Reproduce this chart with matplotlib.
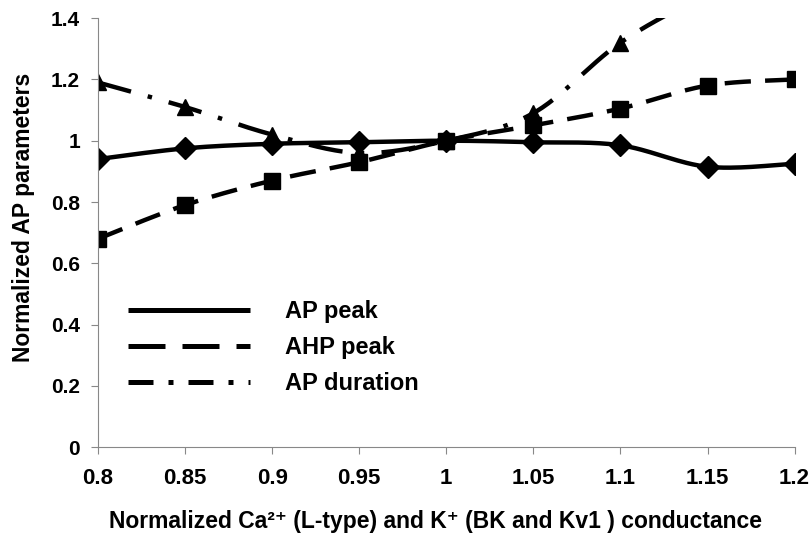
import numpy as np
import matplotlib
matplotlib.use("Agg")
from matplotlib import pyplot as plt
from matplotlib.lines import Line2D

plt.rcParams['font.family'] = ['Liberation Sans', 'DejaVu Sans']
plt.rcParams['font.weight'] = 'bold'

conductance = [0.8, 0.85, 0.9, 0.95, 1.0, 1.05, 1.1, 1.15, 1.2]
ap_peak = [0.94, 0.975, 0.99, 0.995, 1.0, 0.995, 0.985, 0.915, 0.925]
ahp_peak = [0.68, 0.79, 0.87, 0.93, 1.0, 1.05, 1.105, 1.18, 1.2]
ap_duration = [1.19, 1.11, 1.02, 0.96, 1.0, 1.09, 1.32, 1.48, 1.62]

labels = ['AP peak', 'AHP peak', 'AP duration']
xticks = [0.8, 0.85, 0.9, 0.95, 1.0, 1.05, 1.1, 1.15, 1.2]
xticklabels = ['0.8', '0.85', '0.9', '0.95', '1', '1.05', '1.1', '1.15', '1.2']
yticks = [0, 0.2, 0.4, 0.6, 0.8, 1.0, 1.2, 1.4]
yticklabels = ['0', '0.2', '0.4', '0.6', '0.8', '1', '1.2', '1.4']


def smooth(x, y, n=30):
	# excel style smoothed line: cubic bezier through the points (catmull-rom)
	x = np.asarray(x, float)
	y = np.asarray(y, float)
	px = np.concatenate([[x[0]], x, [x[-1]]])
	py = np.concatenate([[y[0]], y, [y[-1]]])
	t = np.linspace(0, 1, n)
	xs, ys = [], []
	for i in range(1, len(px) - 2):
		p0 = np.array([px[i - 1], py[i - 1]])
		p1 = np.array([px[i], py[i]])
		p2 = np.array([px[i + 1], py[i + 1]])
		p3 = np.array([px[i + 2], py[i + 2]])
		c1 = p1 + (p2 - p0) / 6.0
		c2 = p2 - (p3 - p1) / 6.0
		b = ((1 - t) ** 3)[:, None] * p1 + (3 * (1 - t) ** 2 * t)[:, None] * c1 \
			+ (3 * (1 - t) * t ** 2)[:, None] * c2 + (t ** 3)[:, None] * p2
		xs.append(b[:, 0])
		ys.append(b[:, 1])
	return np.concatenate(xs), np.concatenate(ys)


fig = plt.figure(figsize=(8.1, 5.33), dpi=100)
ax = fig.add_axes([0.121, 0.161, 0.86, 0.805])

# (values, line dashes, legend dashes, marker, marker size)
styles = [
	(ap_peak, (0, ()), (0, ()), 'D', 11),
	(ahp_peak, (0, (5.9, 3.2)), (0, (7.4, 3.4)), 's', 11),
	(ap_duration, (0, (7.7, 3.9, 1, 3.9)), (0, (5, 3, 1, 3)), '^', 12),
]
handles = []
for (vals, ls, lls, mk, ms), lab in zip(styles, labels):
	sx, sy = smooth(conductance, vals)
	ax.plot(sx, sy, color='black', lw=3.2, linestyle=ls)
	ax.plot(conductance, vals, linestyle='none', marker=mk, ms=ms, color='black')
	handles.append(Line2D([], [], color='black', lw=3.6, linestyle=lls, label=lab))

ax.set_xlim(0.8, 1.2)
ax.set_ylim(0, 1.4)
ax.set_xticks(xticks)
ax.set_xticklabels(xticklabels)
ax.set_yticks(yticks)
ax.set_yticklabels(yticklabels)
ax.tick_params(axis='both', length=5, color='#888888', width=0.8)
ax.tick_params(axis='x', labelsize=16, pad=10)
ax.tick_params(axis='y', labelsize=15, pad=8)
for s in ['top', 'right']:
	ax.spines[s].set_visible(False)
for s in ['left', 'bottom']:
	ax.spines[s].set_color('#888888')
	ax.spines[s].set_linewidth(0.8)

ax.set_ylabel('Normalized AP parameters', fontsize=16.5, fontweight='bold')
ax.yaxis.set_label_coords(-0.09, 0.536)
ax.set_xlabel('Normalized Ca²⁺ (L-type) and K⁺ (BK and Kv1 ) conductance',
	fontsize=16.5, fontweight='bold')
ax.xaxis.set_label_coords(0.485, -0.147)

leg = ax.legend(handles=handles, loc='upper left', bbox_to_anchor=(0.012, 0.392),
	frameon=False, fontsize=17, handlelength=5.2, handletextpad=1.45, labelspacing=0.55)

fig.savefig('out.png', dpi=100)
